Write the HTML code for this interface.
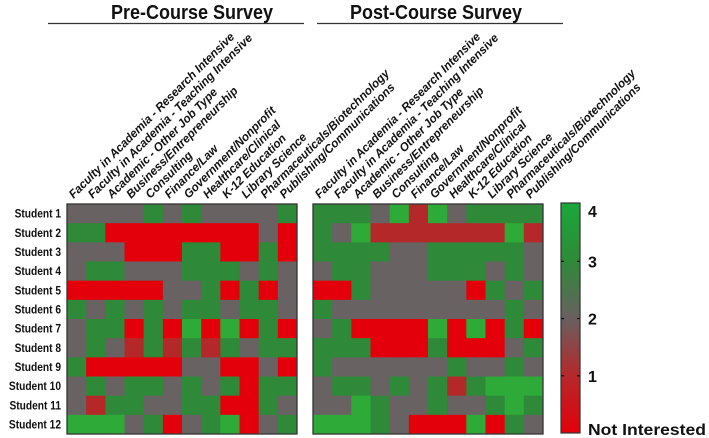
<!DOCTYPE html>
<html><head><meta charset="utf-8"><style>
html,body{margin:0;padding:0;background:#fff;}
svg{display:block;}
text{font-family:"Liberation Sans",Arial,sans-serif;font-weight:bold;fill:#111;}
</style></head><body>
<svg id="chart" width="709" height="438" viewBox="0 0 709 438" xmlns="http://www.w3.org/2000/svg">
<defs>
<linearGradient id="cbgrad" x1="0" y1="1" x2="0" y2="0">
<stop offset="0" stop-color="#e3000b"/>
<stop offset="0.25" stop-color="#b5282a"/>
<stop offset="0.5" stop-color="#686060"/>
<stop offset="0.75" stop-color="#2e8a38"/>
<stop offset="1" stop-color="#1aa83a"/>
</linearGradient>
</defs>
<g id="root"></g>
</svg>
<script>
const categories = ["Faculty in Academia - Research Intensive","Faculty in Academia - Teaching Intensive","Academic - Other Job Type","Business/Entrepreneurship","Consulting","Finance/Law","Government/Nonprofit","Healthcare/Clinical","K-12 Education","Library Science","Pharmaceuticals/Biotechnology","Publishing/Communications"];
const students = ["Student 1","Student 2","Student 3","Student 4","Student 5","Student 6","Student 7","Student 8","Student 9","Student 10","Student 11","Student 12"];
const preValues = [
[2,2,2,2,3,2,3,2,2,2,2,3],
[3,3,0,0,0,0,0,0,0,0,2,0],
[2,2,2,0,0,0,3,3,0,0,3,0],
[2,3,3,2,2,2,3,3,3,2,3,2],
[0,0,0,0,0,2,2,3,0,3,0,2],
[3,2,3,2,3,2,3,3,2,3,3,2],
[2,3,3,0,3,0,4,0,4,0,3,0],
[2,3,2,1,3,1,3,1,3,2,3,3],
[3,0,0,0,0,0,2,2,0,0,2,0],
[2,3,2,3,3,2,3,2,3,0,3,3],
[2,1,3,3,2,2,3,3,0,0,3,2],
[4,4,4,2,3,0,2,3,4,0,2,3]];
const postValues = [
[3,3,3,2,4,1,4,2,3,3,3,3],
[3,2,4,1,1,1,1,1,1,1,4,1],
[3,3,3,3,2,2,3,3,3,3,3,2],
[2,3,3,2,2,2,3,3,3,2,3,2],
[0,0,3,2,2,2,2,2,0,3,2,3],
[3,2,2,2,2,2,2,2,2,2,3,2],
[2,3,0,0,0,0,4,0,4,0,3,0],
[3,3,3,0,0,0,3,0,0,0,2,3],
[3,2,2,2,2,2,2,3,2,2,3,2],
[2,3,3,2,3,2,3,1,3,4,4,4],
[2,2,4,3,2,2,3,2,2,3,4,3],
[4,4,4,3,2,0,0,0,4,0,3,2]];
const colorTicks = [1,2,3,4];
const colorTickLabels = ["1","2","3","4"];
const colorBottomLabel = "Not Interested";

const NS="http://www.w3.org/2000/svg";
const root=document.getElementById('root');
function mk(tag,attrs,parent){const e=document.createElementNS(NS,tag);for(const k in attrs)e.setAttribute(k,attrs[k]);(parent||root).appendChild(e);return e;}
const palette=["#e3000b","#b5282a","#686262","#2e8a38","#2eaa38"];
function colorOf(v){return palette[Math.max(0,Math.min(4,Math.round(v)))];}
const TOP=204, BOT=434, ROWH=(BOT-TOP)/students.length;
function yRow(i){return TOP+i*ROWH;}
const PANELW=230;
function xCol(x0,j){return x0+j*PANELW/categories.length;}
const COLW=PANELW/categories.length;

function panel(x0,values,title,lx1,lx2,tx,nm){
  const g=mk('g',{});
  
  
  const t=mk('text',{x:0,y:0,'text-anchor':'middle','font-size':'20',transform:`translate(${tx},19) scale(0.9,1)`},g);
  t.textContent=title;
  
  
  const l=mk('line',{x1:lx1,x2:lx2,y1:23.5,y2:23.5,stroke:'#333','stroke-width':1.2},g);
  
  
  values.forEach((row,i)=>row.forEach((v,j)=>{
    const r=mk('rect',{x:xCol(x0,j),y:yRow(i),width:COLW+0.4,height:ROWH+0.4,fill:colorOf(v)},g);
    
    
  }));
  const b=mk('rect',{x:x0,y:TOP,width:PANELW,height:BOT-TOP,fill:'none',stroke:'#333','stroke-width':1.3},g);
  
  
  categories.forEach((c,j)=>{
    const cx=xCol(x0,j)+COLW/2-3, cy=TOP-5;
    const tx2=mk('text',{x:0,y:0,'font-size':'12','font-style':'italic',transform:`translate(${cx},${cy}) rotate(-45) scale(0.97,1)`},g);
    tx2.textContent=c;
    
    
  });
}
panel(67,preValues,"Pre-Course Survey",48,304,192,'pre-course');
panel(313,postValues,"Post-Course Survey",317,563,436,'post-course');

students.forEach((s,i)=>{
  const t=mk('text',{x:0,y:0,'font-size':'12','text-anchor':'end',transform:`translate(61,${yRow(i)+ROWH/2+4}) scale(0.85,1)`});
  t.textContent=s;
  
  
});

// colorbar
const CBX=561,CBW=19,CBT=203,CBB=433;
function yVal(v){return CBB-(v/4.02)*(CBB-CBT);}
const cb=mk('rect',{x:CBX,y:CBT,width:CBW,height:CBB-CBT,fill:'url(#cbgrad)',stroke:'#333','stroke-width':1.2});


colorTicks.forEach((v,k)=>{
  const y=yVal(v);
  if(v<4){
    const a=mk('line',{x1:CBX,x2:CBX+3,y1:y,y2:y,stroke:'#111','stroke-width':1.2});
    
    
    const b2=mk('line',{x1:CBX+CBW-3,x2:CBX+CBW,y1:y,y2:y,stroke:'#111','stroke-width':1.2});
    
    
  }
  const t=mk('text',{x:588,y:(v>=4?y+13:y+6),'font-size':'16'});
  t.textContent=colorTickLabels[k];
  
  
});
const nl=mk('text',{x:588,y:435,'font-size':'16',textLength:'118',lengthAdjust:'spacingAndGlyphs'});
nl.textContent=colorBottomLabel;


</script>
</body></html>
